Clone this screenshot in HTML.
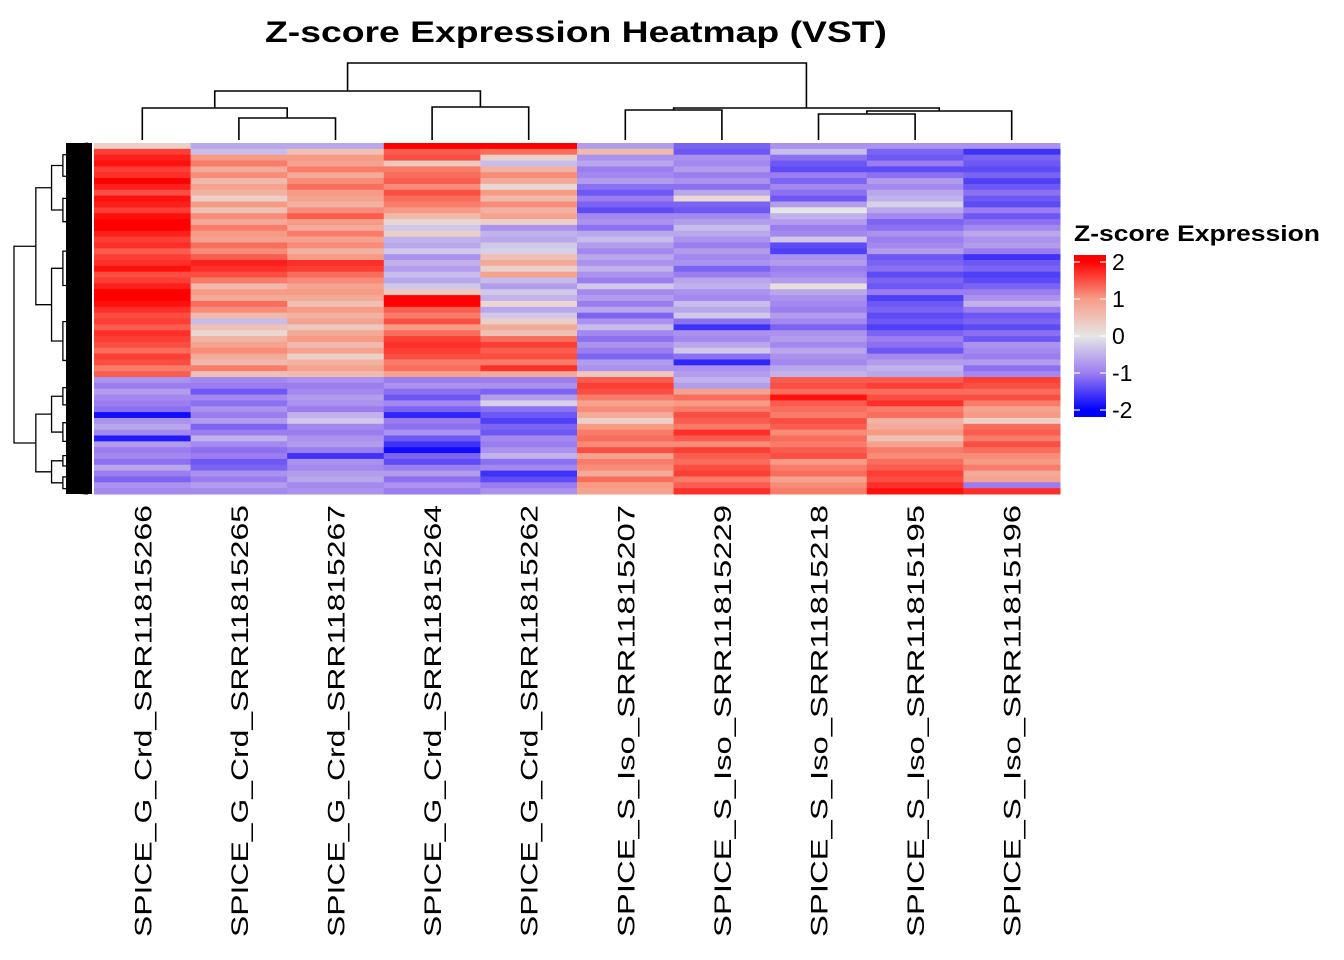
<!DOCTYPE html>
<html><head><meta charset="utf-8">
<style>
html,body{margin:0;padding:0;background:#fff;}
svg{display:block;font-family:"Liberation Sans",Arial,sans-serif;}
</style></head>
<body>
<svg id="chart" width="1344" height="960" viewBox="0 0 1344 960" xmlns="http://www.w3.org/2000/svg">
<text x="576" y="42" text-anchor="middle" font-size="30" font-weight="bold" textLength="622" lengthAdjust="spacingAndGlyphs">Z-score Expression Heatmap (VST)</text>
<g id="cells"></g>
<g id="coldend" stroke="#000" stroke-width="1.6" fill="none"></g>
<g id="rowdend" stroke="#000" stroke-width="1.3" fill="none"></g>
<g id="labels"></g>
<g>
  <defs><linearGradient id="lg" x1="0" y1="1" x2="0" y2="0">
    <stop offset="0.04" stop-color="#0000ff"/><stop offset="0.27" stop-color="#9b7df0"/>
    <stop offset="0.5" stop-color="#e6e6e6"/><stop offset="0.73" stop-color="#f79b85"/>
    <stop offset="0.96" stop-color="#ff0000"/></linearGradient></defs>
  <text x="1074" y="241" font-size="22" font-weight="bold" textLength="246" lengthAdjust="spacingAndGlyphs">Z-score Expression</text>
  <rect x="1074" y="255" width="32" height="162" fill="url(#lg)"/>
  <g id="legticks"></g>
</g>
</svg>
<script>
const sampleNames=["SPICE_G_Crd_SRR11815266","SPICE_G_Crd_SRR11815265","SPICE_G_Crd_SRR11815267","SPICE_G_Crd_SRR11815264","SPICE_G_Crd_SRR11815262","SPICE_S_Iso_SRR11815207","SPICE_S_Iso_SRR11815229","SPICE_S_Iso_SRR11815218","SPICE_S_Iso_SRR11815195","SPICE_S_Iso_SRR11815196"];
const legendTicks=[2,1,0,-1,-2];
const col1=[0.3,1.6,1.8,1.9,1.6,1.7,2,1.8,1.5,1.9,1.8,1.6,1.9,2,2,1.8,1.6,1.7,1.4,1.6,1.7,1.9,1.5,1.6,1.8,2,2,1.9,1.7,1.5,1.6,1.4,1.7,1.6,1.5,1.3,1.6,1.5,1.2,1.4,-0.8,-1,-0.7,-0.9,-1,-1.1,-1.9,-0.8,-0.6,-0.9,-1.8,-0.7,-1,-0.9,-1.1,-0.6,-1,-1.2,-0.8,-0.9];
const col2=[-0.6,-0.4,1.0,1.2,0.8,1.1,0.6,0.9,0.7,0.3,1.0,0.5,1.1,0.8,1.2,1.0,0.9,1.3,1.1,1.4,1.8,1.7,1.5,1.2,0.6,1.0,0.8,1.3,1.1,0.6,-0.4,0.5,0.2,0.7,0.9,1.1,0.8,0.6,1.2,0.5,-0.9,-1.0,-1.3,-0.9,-1.1,-0.8,-1.0,-0.7,-1.2,-1.0,-0.5,-0.9,-1.1,-1.0,-1.3,-1.2,-0.8,-1.0,-0.7,-0.9];
const col3=[-0.6,0.5,1.0,0.9,1.2,0.8,1.1,1.3,1.0,0.9,0.7,1.1,1.4,1.0,0.8,1.2,0.9,1.1,0.7,1.0,1.7,1.6,1.3,1.1,0.9,1.0,0.8,0.5,1.0,0.7,0.9,0.4,0.8,1.0,0.6,0.9,0.3,0.7,0.9,0.6,-0.8,-1,-0.9,-0.7,-0.8,-1,-0.5,-0.3,-0.9,-1,-0.8,-0.7,-1,-1.6,-0.8,-0.9,-0.7,-0.6,-0.9,-0.8];
const col4=[2,1.4,1.5,0.4,1.2,1.3,1.4,1.1,1.5,1.3,1.2,1.0,0.6,0.2,-0.3,0.3,-0.5,-0.6,-0.3,-0.8,-0.5,-0.7,-0.4,-0.6,-0.3,0.4,2,2,1.4,1.2,1.5,1.0,1.3,1.6,1.7,1.6,1.5,1.2,1.3,0.9,-1.0,-0.8,-1.1,-1.3,-0.9,-1.2,-1.7,-1.0,-1.1,-0.8,-1.3,-1.6,-1.9,-1.2,-1.4,-1.0,-0.7,-1.1,-0.8,-1.0];
const col5=[2,1.3,0.3,-0.4,0.7,1.1,0.8,0.2,1.0,0.6,1.1,0.7,0.9,0.3,-0.8,-0.5,-0.6,-0.3,-0.2,0.5,0.8,0.3,0.9,-0.4,-0.7,-0.3,-0.5,0.2,-0.6,-0.3,0.3,0.8,0.5,1.3,1.6,1.4,1.5,1.2,1.7,0.8,-1.0,-0.8,-1.2,-0.7,-0.2,-1.1,-1.3,-1.5,-1.2,-1.3,-0.9,-1.0,-0.8,-0.5,-1.1,-0.9,-1.6,-1.4,-1.0,-0.8];
const col6=[-0.7,0.6,-0.8,-0.6,-1.0,-0.9,-0.7,-1.1,-1.3,-1.0,-1.2,-1.4,-0.9,-0.8,-1.1,-0.6,-0.4,-0.7,-0.9,-0.6,-0.8,-0.5,-0.8,-1.0,-0.3,-0.9,-0.7,-1.0,-0.6,-1.2,-0.8,-0.4,-0.9,-1.1,-0.8,-1.0,-1.2,-0.7,-0.8,0.4,1.4,1.6,1.5,1.2,0.9,1.1,0.8,0.3,1.0,1.2,1.3,1.1,1.5,0.9,1.2,1.1,0.8,1.3,1.0,0.9];
const col7=[-1.2,-1.3,-0.8,-0.9,-0.7,-1.0,-0.8,-1.1,-0.6,0.2,-1.2,-1.3,-0.9,-0.7,-0.4,-0.6,-0.8,-1.0,-0.7,-0.9,-0.8,-1.2,-1.0,-0.6,-0.5,-0.8,-0.9,-0.4,-0.6,-0.3,-1.1,-1.6,-0.8,-0.9,-0.6,-0.3,-1.1,-1.7,-0.8,-0.7,-0.5,-0.7,0.9,1.3,1.0,1.2,1.5,1.4,1.2,1.7,1.4,1.1,1.6,1.4,1.3,1.5,1.6,1.2,1.4,1.7];
const col8=[-0.8,-0.4,-1.1,-1.3,-1.4,-1.0,-1.2,-0.9,-1.1,-1.3,-0.7,0.0,-0.5,-0.7,-1.0,-0.9,-0.3,-1.4,-1.5,-0.8,-0.7,-1.0,-0.9,-0.7,0.1,-0.6,-0.8,-0.9,-1.0,-0.7,-0.9,-1.2,-0.8,-0.7,-0.9,-0.6,-0.8,-0.9,-0.6,-0.5,1.4,1.5,1.3,1.9,1.4,1.3,1.2,1.5,1.4,1.1,1.3,1.2,1.4,1.5,1.0,1.2,1.3,0.9,1.1,1.2];
const col9=[-0.8,-1.2,-1.3,-1.0,-1.4,-1.1,-0.7,-0.9,-0.6,-0.5,-0.2,-0.6,-0.9,-1.2,-1.1,-0.8,-1.0,-0.9,-0.7,-1.3,-1.2,-1.1,-1.4,-1.2,-1.3,-1.0,-1.5,-1.3,-1.2,-1.4,-1.3,-1.5,-1.2,-1.0,-1.1,-1.3,-0.9,-0.7,-0.5,-0.6,1.4,1.6,1.3,1.5,1.7,1.2,1.3,0.7,0.8,1.0,0.5,0.9,1.2,1.1,1.3,1.4,1.6,1.5,1.7,1.9];
const col10=[-0.8,-1.6,-1.2,-1.3,-1.4,-1.2,-1.5,-1.3,-1.1,-1.3,-1.4,-1.0,-1.3,-1.1,-0.9,-0.6,-0.8,-0.7,-1.0,-1.6,-1.3,-1.2,-1.5,-1.4,-1.2,-1.0,-0.8,-0.5,-1.0,-1.3,-1.2,-1.4,-1.1,-1.3,-0.8,-0.9,-1.0,-0.7,-1.1,-0.9,1.6,1.5,1.3,1.5,1.2,0.9,1.0,0.3,1.3,1.4,1.2,1.5,1.3,1.1,1.0,1.2,0.8,0.9,-1.0,1.7];
const columns=[col1,col2,col3,col4,col5,col6,col7,col8,col9,col10];

const NS="http://www.w3.org/2000/svg";
function mk(tag,attrs,parent){const e=document.createElementNS(NS,tag);for(const k in attrs)e.setAttribute(k,attrs[k]);parent.appendChild(e);return e;}
const X0=94,X1=1060,Y0=143,Y1=494;
const nCol=sampleNames.length, colW=(X1-X0)/nCol;
function xScale(i){return X0+i*colW;}
function yScale(r,n){return Y0+r*(Y1-Y0)/n;}
const stops=[[-2,[0,0,255]],[-1,[155,125,240]],[0,[230,230,230]],[1,[247,155,133]],[2,[255,0,0]]];
function color(v){v=Math.max(-2,Math.min(2,v));for(let i=0;i<stops.length-1;i++){const a=stops[i],b=stops[i+1];if(v<=b[0]){const t=(v-a[0])/(b[0]-a[0]);const c=a[1].map((x,j)=>Math.round(x+(b[1][j]-x)*t));return `rgb(${c})`;}}return "red";}
const cells=document.getElementById('cells');
columns.forEach((vals,ci)=>{const n=vals.length;vals.forEach((v,ri)=>{
  const r=mk('rect',{x:xScale(ci),y:yScale(ri,n),width:colW+0.5,height:(Y1-Y0)/n+0.5,fill:color(v)},cells);
  
  
});});
const lab=document.getElementById('labels');
sampleNames.forEach((s,i)=>{const cx=xScale(i)+colW/2+9;
  const t=mk('text',{transform:`translate(${cx},505) rotate(-90)`,'text-anchor':'end','font-size':'24',textLength:'432',lengthAdjust:'spacingAndGlyphs'},lab);
  t.textContent=s;
  
  
});
const cd=document.getElementById('coldend');
const cx=i=>xScale(i)+colW/2;
function link(a,b,yTop,ya,yb){mk('path',{d:`M${a},${ya}V${yTop}H${b}V${yb}`},cd);}
const xB=(cx(0)+(cx(1)+cx(2))/2)/2, xD=(cx(3)+cx(4))/2, xA=(xB+xD)/2;
const xF=(cx(5)+cx(6))/2, xH=(cx(7)+cx(8))/2, xG=(xH+cx(9))/2, xE=(xF+xG)/2;
link(xA,xE,63,91,108);
link(xB,xD,91,108,107);
link(cx(0),(cx(1)+cx(2))/2,108,140,118);
link(cx(1),cx(2),118,140,140);
link(cx(3),cx(4),107,140,140);
link(xF,xG,108,110,111);
link(cx(5),cx(6),110,140,140);
link(xH,cx(9),111,114,140);
link(cx(7),cx(8),114,140,140);
const rd=document.getElementById('rowdend');
const xd=d=>92-78*Math.pow(0.72,d);
function node(y0,y1,d,split){
  const x=xd(d);
  if(d>=9){return (y0+y1)/2;}
  const m=y0+(y1-y0)*split;
  const a=node(y0,m,d+1,0.38+((d*7)%5)*0.05);
  const b=node(m,y1,d+1,0.62-((d*3)%5)*0.05);
  mk('path',{d:`M${xd(d+1)},${a}H${x}V${b}H${xd(d+1)}`},rd);
  return (a+b)/2;
}
node(Y0,Y1,0,0.67);
mk('rect',{x:66,y:Y0,width:26,height:Y1-Y0,fill:'#000',stroke:'none'},rd);
const lt=document.getElementById('legticks');
legendTicks.forEach(v=>{const y=336-v*37;
  mk('line',{x1:1074,x2:1080,y1:y,y2:y,stroke:'#fff','stroke-width':1.2},lt);
  mk('line',{x1:1100,x2:1106,y1:y,y2:y,stroke:'#fff','stroke-width':1.2},lt);
  const t=mk('text',{x:1112,y:y+8,'font-size':'23'},lt);t.textContent=String(v);
  
  
});
</script>
</body></html>
